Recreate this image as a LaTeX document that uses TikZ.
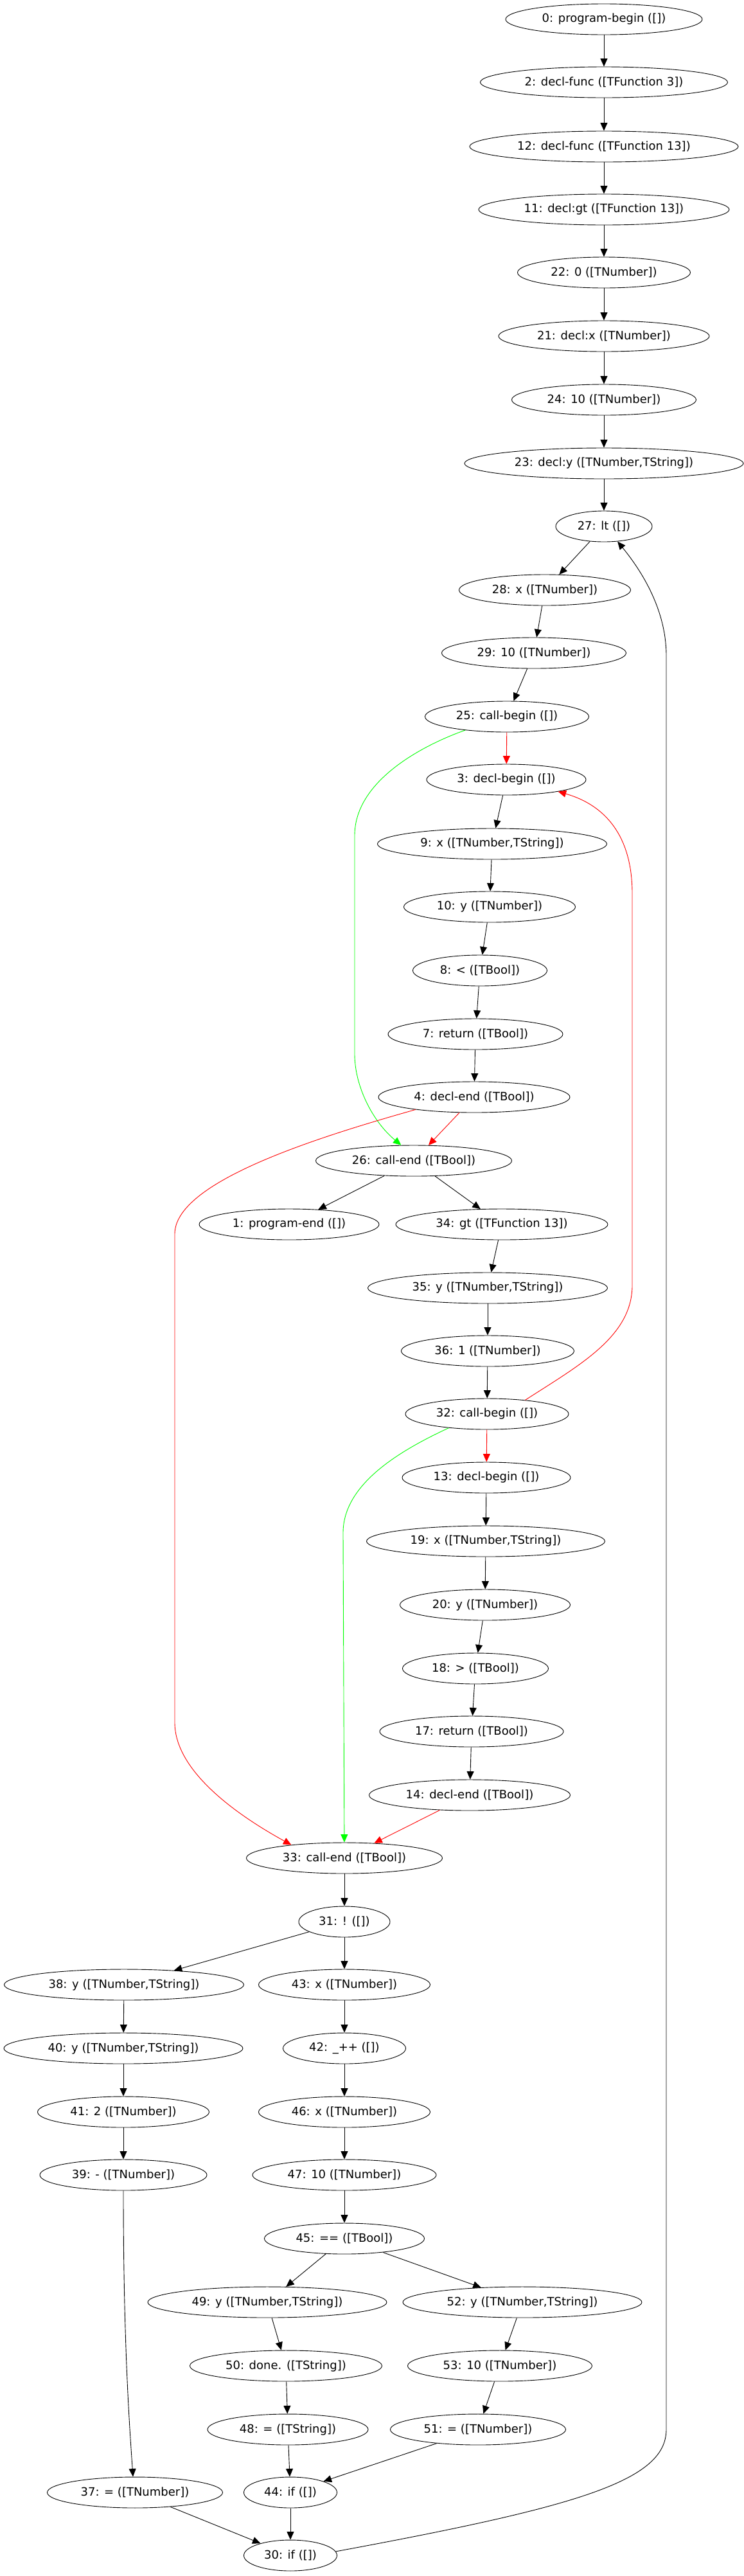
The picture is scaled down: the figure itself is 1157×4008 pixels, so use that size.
\documentclass[tikz,border=0pt]{standalone}
\usepackage{fontspec}
\setmainfont{DejaVu Sans}
\usetikzlibrary{shapes.geometric,arrows.meta}
\definecolor{gvred}{RGB}{255,0,0}
\definecolor{gvgreen}{RGB}{0,255,0}
\tikzset{
  gn/.style={ellipse, draw, line width=0.9pt, minimum height=48pt, inner sep=0pt,
    font=\fontsize{18}{21}\selectfont},
  bedge/.style={line width=0.9pt, draw=black, -{Triangle[length=12.5pt,width=11pt]}},
  redge/.style={bedge, draw=gvred},
  gedge/.style={bedge, draw=gvgreen}
}
\begin{document}
\begin{tikzpicture}[x=1pt,y=-1pt]
\useasboundingbox[fill=white] (0,0) rectangle (1157,4008);
% nodes
\node[gn, minimum width=306] (n0) at (940,30) {0: program-begin ([])};
\node[gn, minimum width=385] (n2) at (940,128) {2: decl-func ([TFunction 3])};
\node[gn, minimum width=418] (n12) at (940,228) {12: decl-func ([TFunction 13])};
\node[gn, minimum width=390] (n11) at (940,326) {11: decl:gt ([TFunction 13])};
\node[gn, minimum width=269] (n22) at (940,424) {22: 0 ([TNumber])};
\node[gn, minimum width=328] (n21) at (940,523) {21: decl:x ([TNumber])};
\node[gn, minimum width=287] (n24) at (940,622) {24: 10 ([TNumber])};
\node[gn, minimum width=434] (n23) at (940,721) {23: decl:y ([TNumber,TString])};
\node[gn, minimum width=150] (n27) at (940,819) {27: lt ([])};
\node[gn, minimum width=267] (n28) at (848,918) {28: x ([TNumber])};
\node[gn, minimum width=287] (n29) at (831,1016) {29: 10 ([TNumber])};
\node[gn, minimum width=255] (n25) at (789,1115) {25: call-begin ([])};
\node[gn, minimum width=248] (n3) at (788,1213) {3: decl-begin ([])};
\node[gn, minimum width=357] (n9) at (766,1313) {9: x ([TNumber,TString])};
\node[gn, minimum width=267] (n10) at (762,1411) {10: y ([TNumber])};
\node[gn, minimum width=209] (n8) at (747,1510) {8: < ([TBool])};
\node[gn, minimum width=272] (n7) at (740,1609) {7: return ([TBool])};
\node[gn, minimum width=298] (n4) at (738,1707) {4: decl-end ([TBool])};
\node[gn, minimum width=305] (n26) at (644,1806) {26: call-end ([TBool])};
\node[gn, minimum width=280] (n1) at (450,1905) {1: program-end ([])};
\node[gn, minimum width=330] (n34) at (781,1905) {34: gt ([TFunction 13])};
\node[gn, minimum width=373] (n35) at (759,2004) {35: y ([TNumber,TString])};
\node[gn, minimum width=269] (n36) at (759,2102) {36: 1 ([TNumber])};
\node[gn, minimum width=254] (n32) at (758,2200) {32: call-begin ([])};
\node[gn, minimum width=262] (n13) at (757,2299) {13: decl-begin ([])};
\node[gn, minimum width=371] (n19) at (756,2398) {19: x ([TNumber,TString])};
\node[gn, minimum width=265] (n20) at (755,2497) {20: y ([TNumber])};
\node[gn, minimum width=227] (n18) at (740,2596) {18: > ([TBool])};
\node[gn, minimum width=286] (n17) at (734,2694) {17: return ([TBool])};
\node[gn, minimum width=313] (n14) at (731,2793) {14: decl-end ([TBool])};
\node[gn, minimum width=305] (n33) at (536,2891) {33: call-end ([TBool])};
\node[gn, minimum width=142] (n31) at (536,2990) {31: ! ([])};
\node[gn, minimum width=373] (n38) at (193,3088) {38: y ([TNumber,TString])};
\node[gn, minimum width=267] (n43) at (536,3088) {43: x ([TNumber])};
\node[gn, minimum width=372] (n40) at (192,3187) {40: y ([TNumber,TString])};
\node[gn, minimum width=191] (n42) at (536,3187) {42: \_++ ([])};
\node[gn, minimum width=267] (n41) at (192,3286) {41: 2 ([TNumber])};
\node[gn, minimum width=267] (n46) at (536,3286) {46: x ([TNumber])};
\node[gn, minimum width=260] (n39) at (192,3384) {39: - ([TNumber])};
\node[gn, minimum width=286] (n47) at (536,3384) {47: 10 ([TNumber])};
\node[gn, minimum width=249] (n45) at (536,3483) {45: == ([TBool])};
\node[gn, minimum width=372] (n49) at (416,3582) {49: y ([TNumber,TString])};
\node[gn, minimum width=372] (n52) at (813,3582) {52: y ([TNumber,TString])};
\node[gn, minimum width=299] (n50) at (445,3681) {50: done. ([TString])};
\node[gn, minimum width=287] (n53) at (778,3681) {53: 10 ([TNumber])};
\node[gn, minimum width=250] (n48) at (448,3780) {48: = ([TString])};
\node[gn, minimum width=273] (n51) at (744,3780) {51: = ([TNumber])};
\node[gn, minimum width=273] (n37) at (210,3878) {37: = ([TNumber])};
\node[gn, minimum width=145] (n44) at (452,3878) {44: if ([])};
\node[gn, minimum width=145] (n30) at (452,3976) {30: if ([])};
% straight black edges
\foreach \a/\b in {n0/n2, n2/n12, n12/n11, n11/n22, n22/n21, n21/n24, n24/n23, n23/n27,
  n27/n28, n28/n29, n29/n25, n3/n9, n9/n10, n10/n8, n8/n7, n7/n4, n26/n1, n26/n34,
  n34/n35, n35/n36, n36/n32, n13/n19, n19/n20, n20/n18, n18/n17, n17/n14, n33/n31,
  n31/n38, n31/n43, n38/n40, n40/n41, n41/n39, n43/n42, n42/n46, n46/n47, n47/n45,
  n45/n49, n45/n52, n49/n50, n50/n48, n48/n44, n52/n53, n53/n51, n51/n44, n44/n30, n37/n30}
  \draw[bedge] (\a) -- (\b);
% straight red edges
\draw[redge] (n25) -- (n3);
\draw[redge] (n32) -- (n13);
\draw[redge] (n4) -- (n26);
\draw[redge] (n14) -- (n33);
% curved edges
\draw[gedge] (n25.198) .. controls (670,1155) and (552,1210) .. (552,1300)
  -- (552,1640) .. controls (552,1690) and (580,1745) .. (n26.129);
\draw[redge] (n32.20) .. controls (900,2125) and (984,2080) .. (984,2000)
  -- (984,1390) .. controls (984,1310) and (950,1255) .. (n3.-13);
\draw[redge] (n4.192) .. controls (485,1772) and (272,1840) .. (272,1920)
  -- (272,2680) .. controls (272,2760) and (380,2830) .. (n33.166);
\draw[gedge] (n32.200) .. controls (620,2258) and (534,2310) .. (534,2385) -- (n33);
\draw[bedge] (n30.5) .. controls (900,3900) and (1037,3860) .. (1037,3780)
  -- (1037,1020) .. controls (1037,950) and (1000,890) .. (n27.-48);
\draw[bedge] (n39) .. controls (192,3650) and (202,3780) .. (n37.97);
\end{tikzpicture}
\end{document}
